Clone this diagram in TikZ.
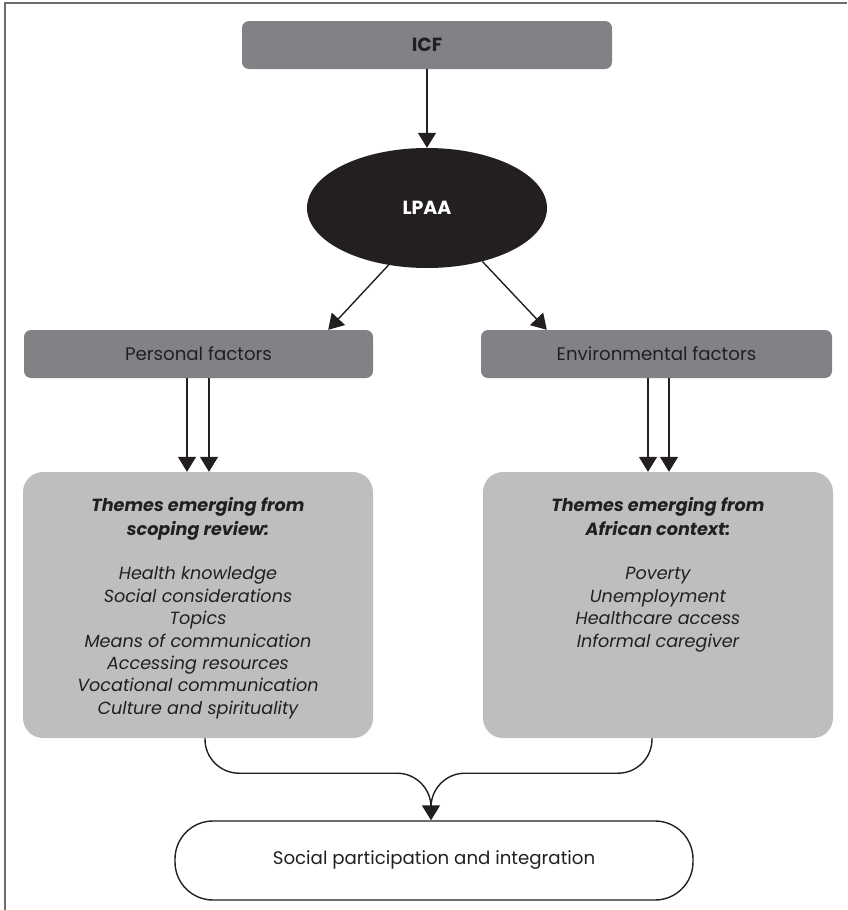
\documentclass[tikz,border=0pt]{standalone}
\usepackage{fontspec}
\setmainfont{Poppins}
\usetikzlibrary{shapes.geometric,arrows.meta,calc}
\definecolor{boxdark}{HTML}{808285}
\definecolor{boxlight}{HTML}{BCBEC0}
\definecolor{ink}{HTML}{231F20}
\definecolor{framegrey}{HTML}{6D6E71}
\begin{document}
\begin{tikzpicture}[x=1pt,y=-1pt,
  factorbox/.style={fill=boxdark, rounded corners=7pt, minimum height=48pt,
    inner sep=0pt, text=ink, font=\fontsize{18.2}{20}\selectfont},
  themebox/.style={fill=boxlight, rounded corners=20pt, minimum width=350pt,
    minimum height=266pt, inner sep=0pt},
  themetext/.style={anchor=north, align=center, inner sep=0pt, text=ink,
    font=\fontsize{17.6}{22.4}\selectfont\itshape},
  link/.style={draw=ink, line width=1.4pt,
    -{Triangle[length=15pt,width=18pt]}},
  plain/.style={draw=ink, line width=1.4pt, rounded corners=34pt}
]
\useasboundingbox (0,0) rectangle (847,910);
% frame lines along the top and left edges
\draw[framegrey, line width=1.6pt] (847,3) -- (5,3) -- (5,910);

% top of the hierarchy
\node[factorbox, minimum width=370pt, font=\fontsize{19}{20}\selectfont\bfseries]
  (icf) at (427,45) {ICF};
\node[ellipse, fill=ink, minimum width=240pt, minimum height=120pt, inner sep=0pt,
  text=white, font=\fontsize{19}{20}\selectfont\bfseries] (lpaa) at (427,208) {LPAA};

% factor boxes
\node[factorbox, minimum width=349pt] (pf) at (198.5,354) {Personal factors};
\node[factorbox, minimum width=351pt] (ef) at (656.5,354) {Environmental factors};

% theme boxes
\node[themebox] (lt) at (198,605) {};
\node[themebox] (rt) at (658,605) {};
\coordinate (ltop) at ($(lt.north)+(0,25)$);
\coordinate (rtop) at ($(rt.north)+(0,25)$);
\node[themetext] (ltx) at (ltop)
  {\textbf{Themes emerging from}\\[1.5pt] \textbf{scoping review:}\\[22.4pt]
   Health knowledge\\ Social considerations\\ Topics\\ Means of communication\\
   Accessing resources\\ Vocational communication\\ Culture and spirituality};
\node[themetext] (rtx) at (rtop)
  {\textbf{Themes emerging from}\\[1.5pt] \textbf{African context:}\\[22.4pt]
   Poverty\\ Unemployment\\ Healthcare access\\ Informal caregiver};

% outcome
\node[draw=ink, line width=1.4pt, rounded corners=38pt, minimum width=518pt,
  minimum height=79pt, inner sep=0pt, text=ink, font=\fontsize{18.2}{20}\selectfont]
  (term) at (434,860.5) {Social participation and integration};

% connectors
\draw[link] (icf.south) -- (lpaa.north);
\draw[link] (lpaa.236) -- ($(pf.north east)+(-45,0)$);
\draw[link] (lpaa.-44) -- ($(ef.north west)+(66,0)$);

\draw[link] ($(pf.south)+(-11.5,0)$) -- ($(lt.north)+(-11,0)$);
\draw[link] ($(pf.south)+(10.5,0)$) -- ($(lt.north)+(11,0)$);
\draw[link] ($(ef.south)+(-8.5,0)$) -- ($(rt.north)+(-10,0)$);
\draw[link] ($(ef.south)+(12.5,0)$) -- ($(rt.north)+(11,0)$);

\coordinate (merge) at (431,807);
\draw[plain] ($(lt.south)+(7,0)$) -- ++(0,35) -| (merge);
\draw[plain] ($(rt.south)+(-6,0)$) -- ++(0,35) -| (merge);
\draw[link] (merge) -- (merge |- term.north);
\end{tikzpicture}
\end{document}
